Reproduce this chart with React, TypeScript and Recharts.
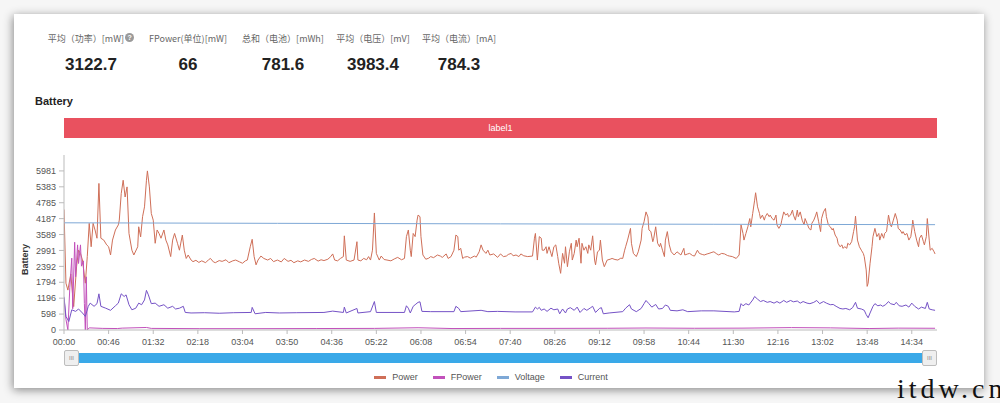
import React from 'react';
import { LineChart, Line, XAxis, YAxis, Legend } from 'recharts';

// summary row
const statLabels = ['平均（功率）[mW]', 'FPower(单位)[mW]', '总和（电池）[mWh]', '平均（电压）[mV]', '平均（电流）[mA]'];
const statValues = ['3122.7', '66', '781.6', '3983.4', '784.3'];

// axis ticks (seconds on x, battery units on y)
const xTicks = [0, 46, 92, 138, 184, 230, 276, 322, 368, 414, 460, 506, 552, 598, 644, 690, 736, 782, 828, 874];
const yTicks = [0, 598, 1196, 1794, 2392, 2991, 3589, 4187, 4785, 5383, 5981];

// [second, value]
const power: [number, number][] = [
  [0, 4530], [2, 1760], [4, 1500], [7, 2100], [10, 880], [13, 2400], [15, 3000], [17, 2880], [19, 2630], [22, 1760],
  [24, 2760], [26, 4010], [28, 3130], [30, 4010], [32, 3760], [34, 3450], [36, 5510], [38, 3450], [41, 3380], [44, 3200],
  [46, 3130], [48, 2820], [50, 3380], [53, 3760], [56, 3950], [57, 4130], [59, 5130], [61, 5630], [63, 5000], [65, 5380],
  [67, 3630], [70, 3000], [72, 2820], [76, 3130], [77, 3880], [79, 3500], [81, 4260], [83, 4630], [85, 5630], [86, 5981],
  [88, 5380], [90, 4380], [92, 4130], [94, 3260], [96, 3760], [98, 3630], [100, 3450], [103, 3760], [105, 3380], [107, 3200],
  [110, 2760], [112, 3380], [114, 3630], [117, 3260], [119, 3000], [122, 3570], [124, 3000], [126, 2690], [128, 2820], [131, 2630],
  [133, 2570], [136, 2620], [139, 2540], [142, 2600], [146, 2530], [149, 2640], [151, 2690], [154, 2560], [156, 2530], [160, 2610],
  [163, 2580], [167, 2640], [170, 2530], [174, 2600], [177, 2630], [181, 2560], [184, 2510], [187, 2600], [189, 2630], [192, 3130],
  [194, 3410], [196, 2760], [198, 2450], [200, 2630], [203, 2780], [206, 2690], [210, 2630], [213, 2690], [216, 2570], [220, 2630],
  [224, 2560], [227, 2690], [231, 2580], [234, 2620], [237, 2530], [241, 2600], [244, 2560], [248, 2630], [252, 2580], [255, 2650],
  [258, 2690], [262, 2590], [265, 2640], [268, 2610], [272, 2660], [275, 2760], [277, 2860], [279, 2630], [282, 2600], [285, 2690],
  [288, 2760], [289, 3540], [291, 2630], [295, 2580], [299, 2630], [302, 3320], [303, 2630], [306, 2600], [309, 2690], [312, 2640],
  [314, 2760], [316, 2630], [318, 3000], [320, 4400], [322, 2880], [325, 2630], [327, 2780], [330, 2650], [333, 2630], [337, 2600],
  [341, 2680], [344, 2730], [348, 2640], [351, 2690], [353, 3510], [355, 3760], [357, 3000], [358, 2760], [360, 3630], [362, 3510],
  [364, 4130], [365, 4320], [367, 4260], [368, 3510], [370, 2820], [373, 2660], [376, 2700], [378, 2760], [381, 2720], [385, 2820],
  [388, 2780], [390, 2730], [394, 2860], [396, 2690], [399, 2760], [402, 3000], [404, 3570], [406, 3510], [407, 3000], [409, 3070],
  [411, 2690], [413, 2740], [416, 2760], [419, 2700], [423, 2780], [425, 2740], [428, 2940], [430, 3200], [432, 3000], [435, 2880],
  [437, 3000], [439, 2820], [443, 2860], [447, 2730], [450, 2860], [453, 2760], [456, 2780], [458, 2840], [461, 2880], [463, 2790],
  [466, 2820], [469, 2760], [471, 2860], [474, 2790], [478, 2760], [483, 2780], [485, 3450], [486, 3630], [488, 2630], [490, 3510],
  [492, 3450], [493, 3000], [495, 3000], [497, 3130], [498, 2880], [500, 3130], [502, 2880], [503, 2760], [505, 3130], [507, 3200],
  [509, 2760], [510, 2510], [512, 2130], [514, 2880], [516, 2510], [517, 3130], [519, 2380], [521, 2940], [523, 3260], [524, 2630],
  [526, 2880], [528, 3380], [529, 3130], [531, 3450], [533, 2510], [534, 3260], [536, 3000], [538, 3130], [540, 2880], [541, 3200],
  [543, 3000], [545, 3540], [547, 2630], [548, 2450], [550, 2940], [552, 3000], [553, 3380], [555, 2630], [557, 2380], [560, 2630],
  [563, 2660], [565, 2690], [568, 2650], [571, 2630], [574, 2700], [576, 2690], [578, 3000], [579, 3130], [581, 3380], [584, 3820],
  [585, 3260], [587, 2880], [590, 2760], [592, 2940], [595, 3380], [596, 3820], [598, 4070], [600, 4440], [602, 4250], [603, 3760],
  [605, 3700], [607, 3320], [608, 3450], [610, 3880], [612, 3260], [614, 3130], [615, 3260], [617, 3000], [619, 2760], [620, 3380],
  [622, 3700], [624, 3200], [626, 2940], [629, 2820], [632, 2940], [636, 2820], [639, 3070], [640, 2820], [643, 2860], [645, 2880],
  [648, 2800], [650, 2780], [653, 3000], [655, 2880], [658, 2840], [660, 2820], [663, 2860], [665, 2880], [668, 2920], [670, 2940],
  [673, 2860], [675, 2820], [678, 2880], [681, 2860], [684, 2800], [686, 2780], [689, 2760], [693, 2690], [696, 2820], [698, 3950],
  [700, 3630], [701, 3380], [703, 3630], [705, 3880], [707, 4190], [708, 3880], [710, 4380], [712, 4880], [713, 5160], [715, 4630],
  [717, 4380], [718, 4190], [720, 4320], [722, 4130], [723, 4260], [725, 4380], [727, 4260], [728, 4320], [730, 4190], [732, 4130],
  [734, 4320], [735, 3950], [737, 3820], [739, 3950], [740, 4130], [742, 4440], [744, 4320], [746, 4380], [747, 4260], [749, 4320],
  [751, 4510], [752, 4320], [754, 4130], [756, 4510], [757, 4260], [759, 4440], [761, 4130], [763, 3950], [764, 4190], [766, 4010],
  [768, 3820], [770, 3760], [771, 4010], [773, 4130], [775, 4320], [776, 4440], [778, 4070], [780, 3700], [781, 4190], [783, 4440],
  [785, 4570], [786, 4260], [788, 3950], [790, 3880], [792, 3760], [793, 3820], [795, 3570], [797, 3450], [798, 3260], [800, 3130],
  [802, 3200], [803, 3070], [805, 3130], [807, 3070], [808, 3260], [810, 3200], [812, 3320], [814, 3700], [815, 3880], [816, 4280],
  [818, 3380], [820, 3130], [822, 3000], [824, 2880], [825, 2760], [827, 2260], [828, 1640], [829, 1760], [831, 2510], [833, 3130],
  [834, 3510], [836, 3820], [838, 3510], [840, 3630], [841, 3380], [843, 3630], [845, 3450], [846, 3630], [848, 3700], [850, 4320],
  [852, 3950], [853, 3880], [855, 4130], [857, 4380], [859, 4130], [860, 3820], [862, 3760], [864, 3630], [865, 3700], [867, 3570],
  [869, 3630], [871, 3380], [873, 3510], [874, 3760], [875, 4130], [877, 3700], [879, 3380], [881, 3130], [882, 3450], [884, 3570],
  [886, 3320], [887, 3200], [889, 3510], [890, 4190], [892, 3380], [893, 3000], [895, 3070], [897, 2940], [898, 2860],
];

const fpower: [number, number][] = [
  [0, 1200], [2, 400], [4, 0], [6, 1600], [8, 2700], [9, 800], [11, 3300], [12, 2000], [14, 3200], [15, 2500],
  [17, 3200], [18, 2400], [20, 2600], [21, 1000], [22, 0], [23, 2000], [24, 0], [26, 80], [40, 60], [55, 55],
  [60, 70], [85, 95], [90, 60], [140, 50], [200, 50], [260, 55], [320, 60], [365, 85], [400, 55], [450, 60],
  [500, 60], [560, 65], [600, 75], [650, 65], [700, 70], [750, 90], [790, 80], [830, 55], [860, 70], [898, 65],
];

const voltage: [number, number][] = [
  [0, 4030], [220, 4010], [450, 3990], [670, 3975], [898, 3960],
];

const current: [number, number][] = [
  [0, 1250], [2, 510], [5, 320], [8, 760], [12, 700], [15, 790], [19, 640], [22, 510], [25, 890], [27, 1010],
  [31, 890], [34, 990], [36, 1360], [38, 890], [43, 820], [48, 740], [53, 910], [56, 1010], [59, 1360], [62, 1260],
  [64, 1320], [67, 950], [70, 760], [74, 820], [77, 1010], [80, 950], [83, 1130], [85, 1490], [87, 1320], [90, 990],
  [94, 1010], [98, 890], [103, 950], [107, 820], [112, 890], [115, 790], [119, 820], [123, 890], [125, 660], [131, 640],
  [145, 650], [160, 630], [175, 650], [193, 660], [194, 850], [197, 610], [208, 660], [222, 640], [240, 650], [268, 660],
  [277, 710], [288, 660], [289, 860], [291, 640], [302, 810], [303, 640], [316, 690], [320, 1070], [322, 660], [351, 660],
  [353, 910], [355, 820], [357, 640], [360, 890], [362, 950], [365, 1040], [367, 1060], [369, 700], [378, 690], [402, 690],
  [404, 890], [407, 810], [409, 690], [430, 740], [437, 690], [447, 700], [465, 680], [483, 680], [486, 860], [488, 790],
  [490, 850], [492, 740], [495, 790], [498, 700], [502, 820], [505, 760], [509, 790], [511, 610], [514, 790], [517, 640],
  [519, 790], [522, 840], [526, 740], [529, 860], [532, 660], [536, 810], [539, 740], [543, 840], [545, 890], [548, 660],
  [552, 810], [554, 840], [556, 610], [562, 640], [576, 690], [579, 820], [583, 950], [585, 790], [590, 690], [595, 810],
  [598, 990], [600, 1110], [603, 990], [606, 860], [610, 960], [613, 790], [617, 810], [620, 940], [623, 890], [625, 740],
  [632, 720], [638, 760], [643, 690], [657, 720], [670, 720], [691, 680], [696, 700], [698, 990], [700, 910], [703, 990],
  [706, 940], [710, 1130], [712, 1260], [715, 1160], [718, 1070], [721, 1110], [725, 1040], [728, 1070], [732, 1010], [735, 1070],
  [738, 1010], [742, 1110], [745, 1040], [749, 1110], [752, 1060], [756, 1090], [759, 1010], [762, 1070], [766, 1010], [769, 990],
  [773, 1040], [776, 1110], [779, 990], [783, 1070], [786, 1010], [790, 950], [793, 960], [796, 890], [800, 810], [803, 790],
  [806, 810], [810, 760], [813, 840], [816, 1040], [818, 820], [822, 790], [825, 740], [827, 580], [829, 460], [831, 640],
  [834, 890], [836, 990], [839, 910], [842, 940], [844, 890], [847, 950], [850, 1070], [852, 990], [856, 950], [858, 1040],
  [861, 910], [864, 890], [868, 940], [871, 860], [874, 1010], [877, 890], [881, 790], [884, 860], [888, 810], [890, 1040],
  [892, 790], [895, 760], [898, 740],
];

const toRows = (arr: [number, number][]) => arr.map(([t, v]) => ({ t, v }));

const fmtTime = (s: number) => {
  const m = Math.floor(s / 60);
  const sec = s % 60;
  return `${String(m).padStart(2, '0')}:${String(sec).padStart(2, '0')}`;
};

const series = [
  { name: 'Power', data: power, color: '#cf6f58' },
  { name: 'FPower', data: fpower, color: '#c251bb' },
  { name: 'Voltage', data: voltage, color: '#7ea8d6' },
  { name: 'Current', data: current, color: '#7552c6' },
];

const statCenters = [91, 188, 283, 373, 459];

const LegendContent = () => (
  <div style={{ display: 'flex', justifyContent: 'center', height: 16, lineHeight: '16px', fontSize: 9, color: '#555' }}>
    {series.map((s) => (
      <div key={s.name} style={{ display: 'flex', alignItems: 'center', marginRight: 15 }}>
        <span style={{ display: 'inline-block', width: 12, height: 3, background: s.color, marginRight: 6 }} />
        <span>{s.name}</span>
      </div>
    ))}
  </div>
);

const Handle = ({ left }: { left: number }) => (
  <div
    style={{
      position: 'absolute', left, top: 350, width: 15, height: 16, boxSizing: 'border-box',
      background: '#efefef', border: '1px solid #bdbdbd', borderRadius: 2,
      fontSize: 6, color: '#888', textAlign: 'center', lineHeight: '14px', letterSpacing: 0,
    }}
  >
    III
  </div>
);

export default function App() {
  return (
    <div
      style={{
        position: 'absolute', left: 0, top: 0, width: 1000, height: 403, overflow: 'hidden',
        background: '#f6f6f6', fontFamily: '"Liberation Sans", Arial, "Noto Sans CJK SC", sans-serif',
      }}
    >
      <div
        style={{
          position: 'absolute', left: 14, top: 14, width: 970, height: 374, background: '#fff',
          boxShadow: '-1px 2px 9px rgba(0,0,0,0.45)',
        }}
      />

      {statLabels.map((label, i) => (
        <div key={label} style={{ position: 'absolute', left: statCenters[i] - 70, top: 28, width: 140, textAlign: 'center' }}>
          <span style={{ fontSize: 9, lineHeight: '12px', color: '#666', fontFamily: '"Noto Sans CJK SC", sans-serif' }}>
            {label}
          </span>
          {i === 0 && (
            <span
              style={{
                display: 'inline-block', width: 9, height: 9, borderRadius: 5, background: '#9a9a9a', color: '#fff',
                fontSize: 7, lineHeight: '9px', textAlign: 'center', marginLeft: 1, verticalAlign: 'middle', fontWeight: 700,
              }}
            >
              ?
            </span>
          )}
        </div>
      ))}
      {statValues.map((val, i) => (
        <div
          key={i}
          style={{
            position: 'absolute', left: statCenters[i] - 60, top: 55, width: 120, textAlign: 'center',
            fontSize: 17, lineHeight: '20px', fontWeight: 700, color: '#222',
          }}
        >
          {val}
        </div>
      ))}

      <div style={{ position: 'absolute', left: 35, top: 94, fontSize: 11, lineHeight: '14px', fontWeight: 700, color: '#222' }}>
        Battery
      </div>

      <div
        style={{
          position: 'absolute', left: 64, top: 118, width: 873, height: 20, background: '#e9515f',
          color: '#fff', fontSize: 9, lineHeight: '20px', textAlign: 'center',
        }}
      >
        label1
      </div>

      <div style={{ position: 'absolute', left: 0, top: 150 }}>
        <LineChart width={1000} height={240} margin={{ top: 5, right: 63, left: 0, bottom: 5 }} style={{ fontFamily: '"Liberation Sans", Arial, sans-serif' }}>
          <XAxis
            dataKey="t"
            type="number"
            domain={[0, 900]}
            ticks={xTicks}
            interval={0}
            tickFormatter={fmtTime}
            height={39}
            tickSize={4}
            tickMargin={5}
            stroke="#bbb"
            tick={{ fill: '#555', fontSize: 9 }}
            allowDataOverflow
          />
          <YAxis
            type="number"
            domain={[0, 6579]}
            ticks={yTicks}
            interval={0}
            width={64}
            tickSize={5}
            tickMargin={3}
            stroke="#bbb"
            tick={{ fill: '#555', fontSize: 9 }}
            label={{
              content: (props: any) => {
                const vb = props.viewBox || { x: 0, y: 5, width: 64, height: 175 };
                const cx = vb.x + 25;
                const cy = vb.y + vb.height / 2 + 17;
                return (
                  <text x={cx} y={cy} transform={`rotate(-90, ${cx}, ${cy})`} textAnchor="middle" dominantBaseline="central" fontSize={9} fontWeight={700} fill="#333">
                    Battery
                  </text>
                );
              },
            }}
          />
          <Legend verticalAlign="bottom" content={<LegendContent />} wrapperStyle={{ left: 0, width: 997, bottom: 5 }} />
          {series.map((s) => (
            <Line
              key={s.name}
              name={s.name}
              data={toRows(s.data)}
              dataKey="v"
              type="linear"
              stroke={s.color}
              strokeWidth={1}
              dot={false}
              activeDot={false}
              isAnimationActive={false}
            />
          ))}
        </LineChart>
      </div>

      <div style={{ position: 'absolute', left: 64, top: 353, width: 873, height: 10, background: '#3aa9e8' }} />
      <Handle left={64} />
      <Handle left={922} />

      <div
        style={{
          position: 'absolute', left: 897, top: 374, fontSize: 28, lineHeight: '30px', letterSpacing: 4,
          fontFamily: '"Liberation Serif", "DejaVu Serif", serif', color: '#111', whiteSpace: 'nowrap',
        }}
      >
        itdw.cn
      </div>
    </div>
  );
}
